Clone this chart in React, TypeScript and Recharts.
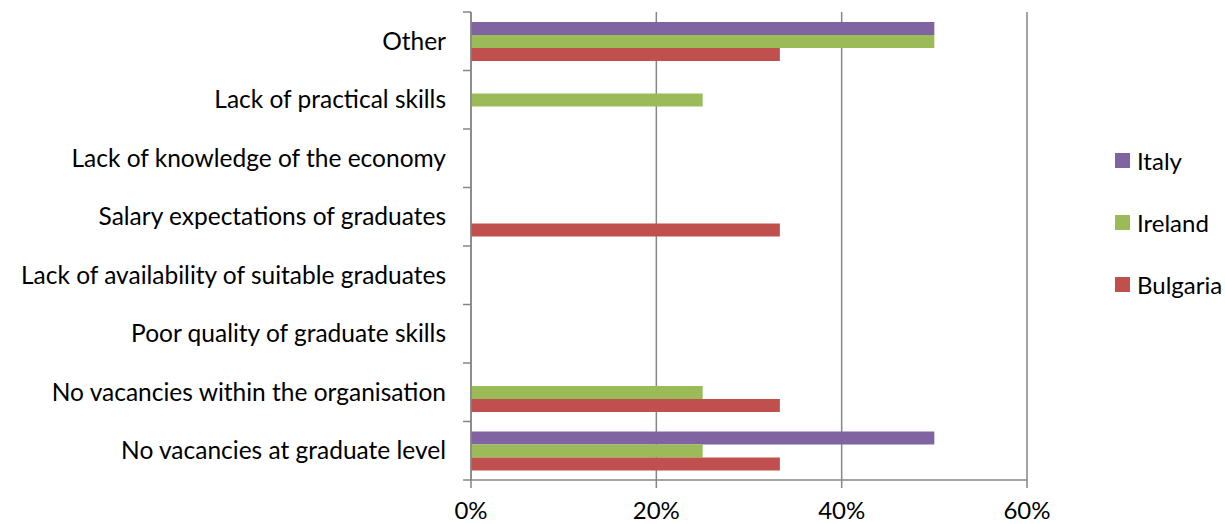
import React from "react";
import {
  BarChart,
  Bar,
  XAxis,
  YAxis,
  CartesianGrid,
  Legend,
} from "recharts";

const categories = [
  "Other",
  "Lack of practical skills",
  "Lack of knowledge of the economy",
  "Salary expectations of graduates",
  "Lack of availability of suitable graduates",
  "Poor quality of graduate skills",
  "No vacancies within the organisation",
  "No vacancies at graduate level",
];

const italy: (number | null)[] = [50, null, null, null, null, null, null, 50];
const ireland: (number | null)[] = [50, 25, null, null, null, null, 25, 25];
const bulgaria: (number | null)[] = [33.33, null, null, 33.33, null, null, 33.33, 33.33];

const xTicks = [0, 20, 40, 60];

const seriesNames = ["Italy", "Ireland", "Bulgaria"];
const seriesColors = ["#8064A2", "#9BBB59", "#C0504D"];

const data = categories.map((name, i) => ({
  name,
  Italy: italy[i],
  Ireland: ireland[i],
  Bulgaria: bulgaria[i],
}));

const FONT = "Lato, 'Open Sans', sans-serif";
const AXIS = "#868686";
const TICK_SIZE = 8;
const TICK_MARGIN = 17;

const LegendContent = (props: any) => {
  const payload = [...(props.payload || [])].sort(
    (a: any, b: any) => seriesNames.indexOf(a.value) - seriesNames.indexOf(b.value)
  );
  return (
    <div style={{ fontFamily: FONT, fontSize: 24, color: "#000" }}>
      {payload.map((p: any) => (
        <div
          key={p.value}
          style={{ display: "flex", alignItems: "center", height: 62 }}
        >
          <div
            style={{
              width: 15,
              height: 15,
              background: p.color,
              marginRight: 7,
              flexShrink: 0,
            }}
          />
          <span style={{ whiteSpace: "nowrap" }}>{p.value}</span>
        </div>
      ))}
    </div>
  );
};

const CategoryTick = (props: any) => {
  const { x, y, payload, index, visibleTicksCount } = props;
  const half = payload && payload.offset ? payload.offset : 0;
  const ax = x + TICK_MARGIN;
  const isLast = index === (visibleTicksCount ?? categories.length) - 1;
  return (
    <g>
      <line
        x1={ax}
        x2={ax + TICK_SIZE}
        y1={y - half}
        y2={y - half}
        stroke={AXIS}
        strokeWidth={1.5}
      />
      {isLast && (
        <line
          x1={ax}
          x2={ax + TICK_SIZE}
          y1={y + half}
          y2={y + half}
          stroke={AXIS}
          strokeWidth={1.5}
        />
      )}
      <text
        x={x}
        y={y}
        dy="0.355em"
        textAnchor="end"
        fill="#000"
        fontSize={24.5}
        fontFamily={FONT}
      >
        {payload.value}
      </text>
    </g>
  );
};

export default function App() {
  return (
    <div style={{ position: "absolute", left: 0, top: 0, width: 1225, height: 524, background: "#fff" }}>
      <BarChart
        width={1225}
        height={524}
        data={data}
        layout="vertical"
        margin={{ top: 12, right: 198, left: 0, bottom: 0 }}
        barGap={0}
      >
        <CartesianGrid horizontal={false} vertical={true} stroke={AXIS} strokeWidth={1.5} />
        <XAxis
          type="number"
          domain={[0, 60]}
          ticks={xTicks}
          tickFormatter={(v: number) => `${v}%`}
          height={44}
          axisLine={{ stroke: AXIS, strokeWidth: 1.5 }}
          tickLine={{ stroke: AXIS, strokeWidth: 1.5 }}
          tickSize={8}
          tickMargin={14}
          tick={{ fill: "#000", fontSize: 24, fontFamily: FONT }}
        />
        <YAxis
          type="category"
          dataKey="name"
          width={471}
          axisLine={{ stroke: AXIS, strokeWidth: 1.5 }}
          tickLine={false}
          tickSize={TICK_SIZE}
          tickMargin={TICK_MARGIN}
          tick={<CategoryTick />}
          interval={0}
        />
        <Legend
          layout="vertical"
          align="center"
          verticalAlign="middle"
          width={110}
          wrapperStyle={{ left: 1115, top: 129, width: 110 }}
          content={<LegendContent />}
        />
        {seriesNames.map((s, i) => (
          <Bar
            key={s}
            dataKey={s}
            name={s}
            fill={seriesColors[i]}
            barSize={13}
            isAnimationActive={false}
          />
        ))}
      </BarChart>
    </div>
  );
}
